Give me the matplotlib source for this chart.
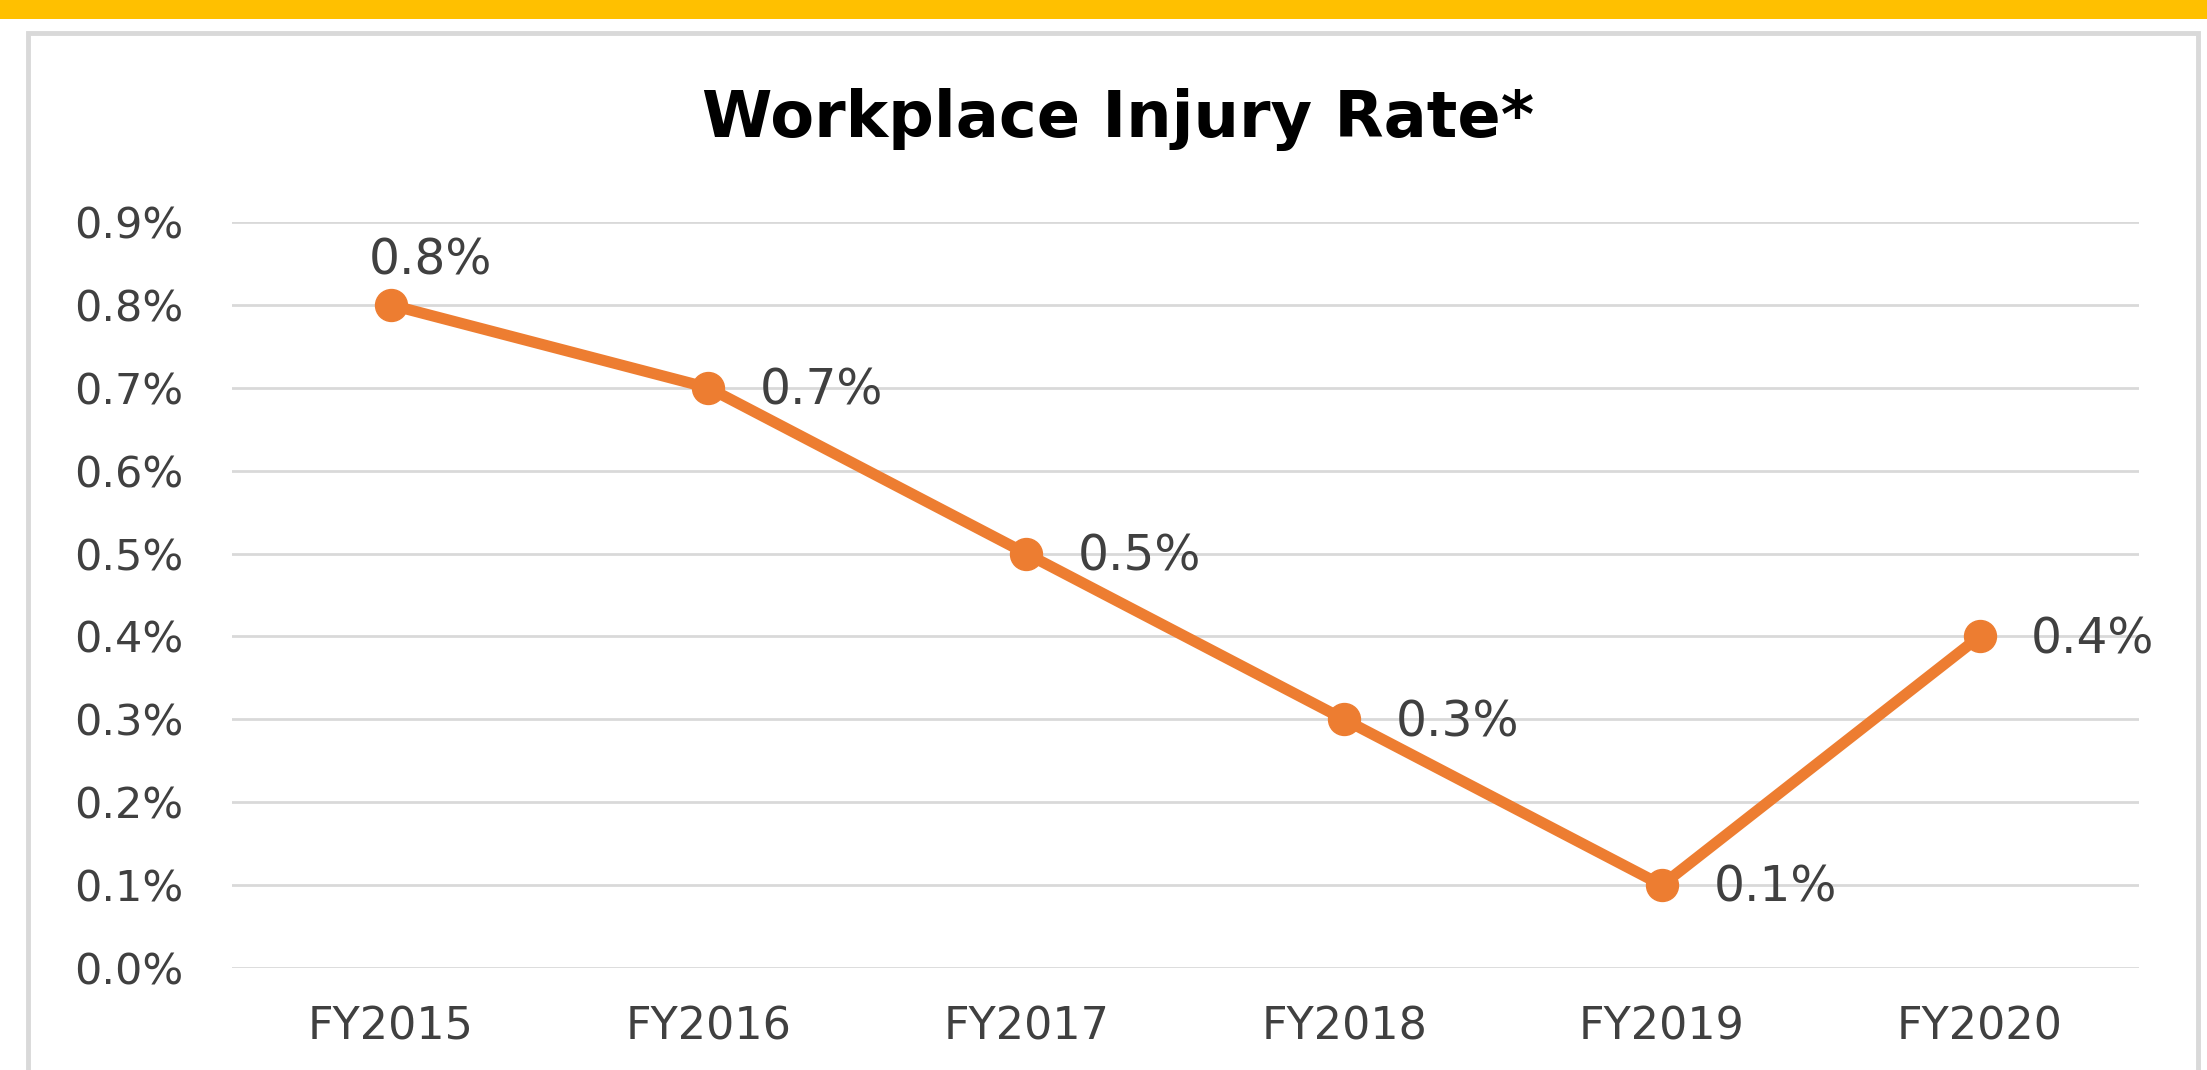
import matplotlib
matplotlib.use("Agg")
import matplotlib.pyplot as plt
from matplotlib.patches import Rectangle
from matplotlib.ticker import FuncFormatter

# data
years = ["FY2015", "FY2016", "FY2017", "FY2018", "FY2019", "FY2020"]
rates = [0.8, 0.7, 0.5, 0.3, 0.1, 0.4]  # percent
y_ticks = [0.0, 0.1, 0.2, 0.3, 0.4, 0.5, 0.6, 0.7, 0.8, 0.9]

plt.rcParams["font.family"] = ["DejaVu Sans"]

ORANGE = "#ED7D31"
GRID = "#D9D9D9"
TEXT = "#404040"


def main():
    fig = plt.figure(figsize=(22.07, 10.70), dpi=100)
    fig.patch.set_facecolor("white")

    # yellow band on top and gray frame around the chart
    fig.patches.append(Rectangle((0, 1 - 19 / 1070), 1, 19 / 1070, transform=fig.transFigure,
                                 facecolor="#FFC000", edgecolor="none", zorder=0))
    fig.patches.append(Rectangle((28 / 2207, -0.05), (2198 - 28) / 2207, 1.05 - 33 / 1070,
                                 transform=fig.transFigure, facecolor="none",
                                 edgecolor=GRID, linewidth=3.5, zorder=0))

    ax = fig.add_axes([0.105, 0.0953, 0.864, 0.6972])
    x = list(range(len(years)))
    ax.plot(x, rates, color=ORANGE, linewidth=8, marker="o", markersize=23,
            solid_capstyle="round", solid_joinstyle="round", zorder=3, clip_on=False)

    for i, v in enumerate(rates):
        lab = "%.1f%%" % v
        if i == 0:
            ax.annotate(lab, (i, v), xytext=(29, 32), textcoords="offset points",
                        ha="center", va="center", fontsize=35, color=TEXT)
        else:
            ax.annotate(lab, (i, v), xytext=(37, -2), textcoords="offset points",
                        ha="left", va="center", fontsize=35, color=TEXT)

    ax.set_xlim(-0.5, len(years) - 0.5)
    ax.set_ylim(0, 0.9)
    ax.set_xticks(x)
    ax.set_xticklabels(years)
    ax.set_yticks(y_ticks)
    ax.yaxis.set_major_formatter(FuncFormatter(lambda v, p: "%.1f%%" % v))
    ax.tick_params(axis="y", length=0, pad=35, labelsize=31, labelcolor=TEXT)
    ax.tick_params(axis="x", length=0, pad=27, labelsize=32, labelcolor=TEXT)

    ax.grid(axis="y", color=GRID, linewidth=2)
    ax.set_axisbelow(True)
    for s in ax.spines.values():
        s.set_visible(False)

    fig.text(0.5065, 0.888, "Workplace Injury Rate*", ha="center", va="center",
             fontsize=46, fontweight="bold", color="black")

    fig.savefig("out.png", dpi=100)


if __name__ == '__main__':
    main()
